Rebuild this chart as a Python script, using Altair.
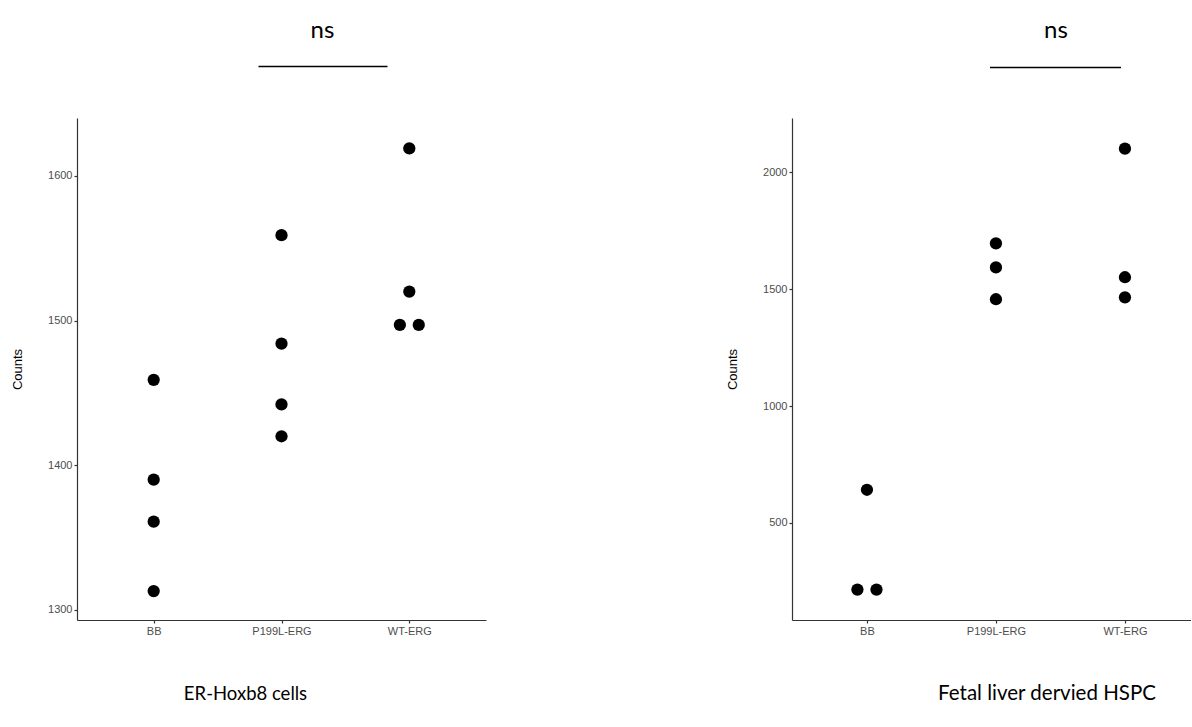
import altair as alt
import pandas as pd

categories = ["BB", "P199L-ERG", "WT-ERG"]

# ER-Hoxb8 cells
er_bb = [1459, 1390, 1361, 1313]
er_p199l = [1559, 1484, 1442, 1420]
er_wt = [1619, 1520, 1497, 1497]

# Fetal liver derived HSPC
fl_bb = [642, 215, 215]
fl_p199l = [1696, 1593, 1457]
fl_wt = [2101, 1551, 1465]

left_ticks = [1300, 1400, 1500, 1600]
right_ticks = [500, 1000, 1500, 2000]

left_label = "ER-Hoxb8 cells"
right_label = "Fetal liver dervied HSPC"
sig_label = "ns"

DODGE = 0.148  # horizontal spread (in category steps) for tied values


def build_frame(groups):
    rows = []
    for idx, (cat, vals) in enumerate(zip(categories, groups)):
        seen = {}
        for v in vals:
            seen.setdefault(v, []).append(v)
        for v, lst in seen.items():
            n = len(lst)
            for i in range(n):
                rows.append({"group": cat, "count": v,
                             "pos": idx + (i - (n - 1) / 2) * DODGE})
    return pd.DataFrame(rows)


left_df = build_frame([er_bb, er_p199l, er_wt])
right_df = build_frame([fl_bb, fl_p199l, fl_wt])

FONT = "Liberation Sans"
ANNOT_FONT = "Lato"

label_expr = "[" + ",".join("'%s'" % c for c in categories) + "][round(datum.value)]"


def panel(df, xdomain, ydomain, yticks, width, height, ns_x, lx1, lx2, ly,
          label, label_x, label_size):
    pts = alt.Chart(df).mark_circle(size=150, color="black", opacity=1).encode(
        x=alt.X(
            "pos:Q",
            scale=alt.Scale(domain=xdomain, nice=False, zero=False),
            axis=alt.Axis(title=None, values=list(range(len(categories))),
                          labelExpr=label_expr, labelAngle=0),
        ),
        y=alt.Y(
            "count:Q",
            scale=alt.Scale(domain=ydomain, nice=False, zero=False),
            axis=alt.Axis(
                values=yticks,
                title="Counts",
                titleX=-59.5,
                titleY=height / 2,
                titleAngle=-90,
                titleBaseline="middle",
                titleAlign="center",
                format="d",
            ),
        ),
        tooltip=["group:N", "count:Q"],
    )
    one = alt.Data(values=[{"t": 1}])
    ns = alt.Chart(one).mark_text(
        text=sig_label, font=ANNOT_FONT, fontSize=24, color="black", baseline="middle", align="center"
    ).encode(x=alt.value(ns_x), y=alt.value(-87.5))
    rule = alt.Chart(one).mark_rule(color="black", strokeWidth=1.5).encode(
        x=alt.value(lx1), x2=alt.value(lx2), y=alt.value(ly)
    )
    bottom = alt.Chart(one).mark_text(
        text=label, font=ANNOT_FONT, fontSize=label_size, color="black",
        baseline="middle", align="center"
    ).encode(x=alt.value(label_x), y=alt.value(575.5))
    return alt.layer(pts, ns, rule, bottom).properties(width=width, height=height)


left = panel(
    left_df, [-0.6, 2.6], [1293, 1640], left_ticks, 409, 502,
    245.5, 181.5, 310.5, -51.5, left_label, 168.5, 18.5,
)
right = panel(
    right_df, [-0.581, 2.512], [85, 2232], right_ticks, 399, 502,
    264, 198, 329, -50.5, right_label, 255, 20.5,
)

chart = (
    alt.hconcat(left, right, spacing=306, bounds="flush")
    .properties(padding={"left": 11, "top": 18, "right": 0, "bottom": 0})
    .configure_view(stroke=None)
    .configure_axis(
        grid=False,
        domainColor="#333333",
        domainWidth=1.2,
        tickColor="#333333",
        tickSize=3,
        tickWidth=1.2,
        labelFont=FONT,
        labelFontSize=11,
        labelColor="#4D4D4D",
        labelPadding=2,
        titleFont=FONT,
        titleFontSize=13,
        titleFontWeight="normal",
        titleColor="black",
    )
)

chart.save("out.html", embed_options={"renderer": "svg", "actions": False})
